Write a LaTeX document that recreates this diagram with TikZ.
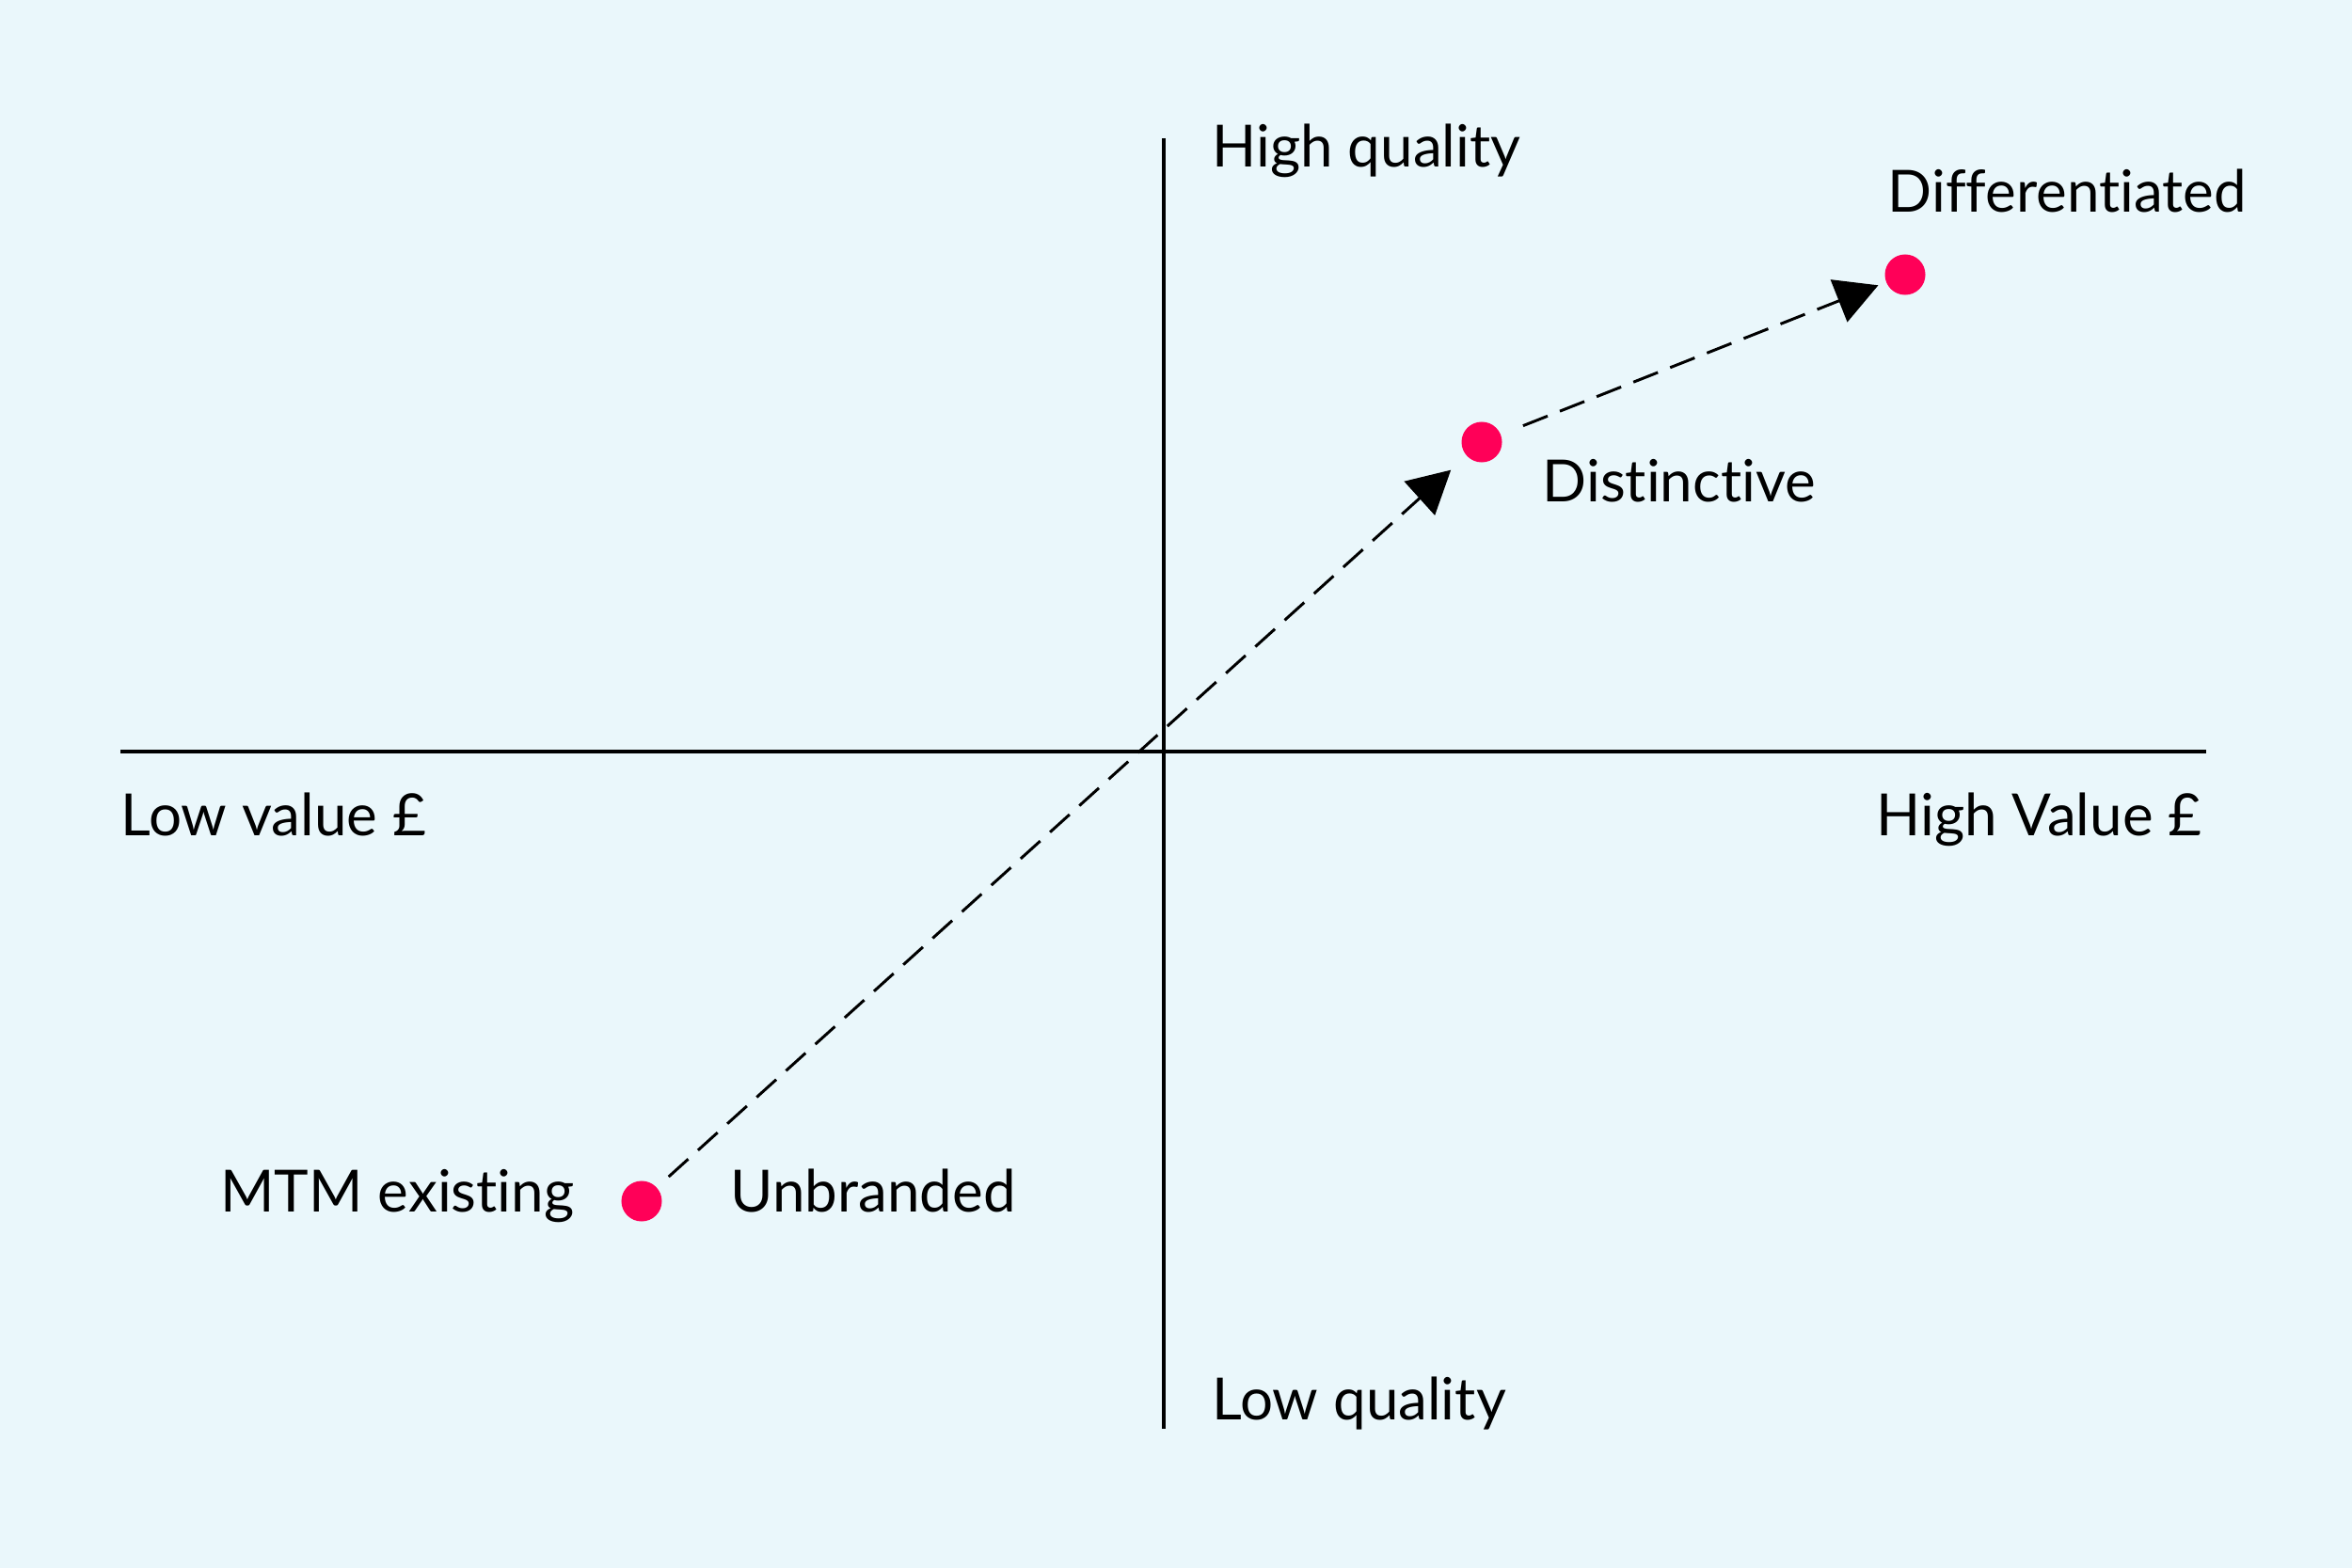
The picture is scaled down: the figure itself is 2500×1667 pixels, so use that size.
\documentclass[tikz,border=0pt]{standalone}
\usepackage{fontspec}
\setmainfont{Lato}[Ligatures=NoCommon]
\usetikzlibrary{arrows.meta}
\definecolor{bgblue}{HTML}{EAF7FB}
\definecolor{dotred}{HTML}{FF0058}
\tikzset{
  dot/.style={circle,fill=dotred,inner sep=0pt,minimum size=0.43cm},
  lbl/.style={inner sep=0pt,font=\fontsize{17.6}{20}\selectfont},
  axis/.style={line width=0.95pt},
  move/.style={dashed,dash pattern=on 2.8mm off 1.4mm,line width=0.85pt,-{Triangle[length=4.5mm,width=4.8mm]}}
}
\begin{document}
\begin{tikzpicture}[x=0.01cm,y=-0.01cm]
  \fill[bgblue] (0,0) rectangle (2500,1667);
  \useasboundingbox (0,0) rectangle (2500,1667);
  % axes
  \coordinate (top) at (1237,147);
  \coordinate (bot) at (1237,1519);
  \coordinate (left) at (128,799);
  \coordinate (right) at (2345,799);
  \draw[axis] (top) -- (bot);
  \draw[axis] (left) -- (right);
  % axis labels
  \node[lbl,anchor=base west] (hq) at (1288,178) {High quality};
  \node[lbl,anchor=base west] (lq) at (1288,1509) {Low quality};
  \node[lbl,anchor=base west] (lv) at (128,888) {Low value £};
  \node[lbl,anchor=base east] (hv) at (2341,888) {High Value £};
  % positions
  \node[dot] (mtm) at (682,1277) {};
  \node[dot] (dist) at (1575,470) {};
  \node[dot] (diff) at (2025,292) {};
  \node[lbl,anchor=base east] (mtmtext) at (611,1288) {MTM existing};
  \node[lbl,anchor=base west] (unbr) at (776,1288) {Unbranded};
  \node[lbl,anchor=base west] (disttext) at (1639,534) {Distinctive};
  \node[lbl,anchor=base west] (difftext) at (2006,226) {Differentiated};
  % moves
  \draw[move,shorten <=0.165cm,shorten >=0.22cm] (mtm) -- (dist);
  \draw[move,shorten <=0.25cm,shorten >=0.085cm] (dist) -- (diff);
\end{tikzpicture}
\end{document}
